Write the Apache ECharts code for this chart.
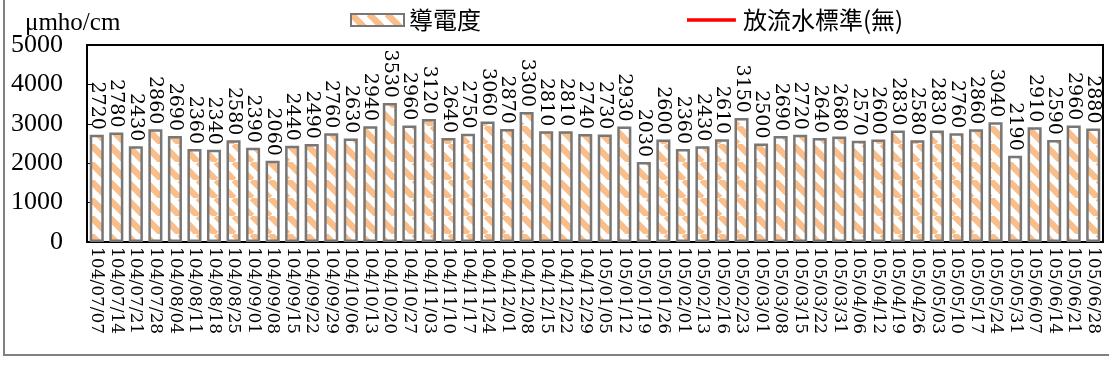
<!DOCTYPE html>
<html><head><meta charset="utf-8">
<script src="https://cdn.jsdelivr.net/npm/echarts@6/dist/echarts.min.js"></script>
<style>html,body{margin:0;padding:0;background:#fff;}#c{width:1109px;height:374px;}</style>
</head><body><div id="c"></div>
<script>
const categories = ['104/07/07','104/07/14','104/07/21','104/07/28','104/08/04','104/08/11','104/08/18','104/08/25','104/09/01','104/09/08','104/09/15','104/09/22','104/09/29','104/10/06','104/10/13','104/10/20','104/10/27','104/11/03','104/11/10','104/11/17','104/11/24','104/12/01','104/12/08','104/12/15','104/12/22','104/12/29','105/01/05','105/01/12','105/01/19','105/01/26','105/02/01','105/02/13','105/02/16','105/02/23','105/03/01','105/03/08','105/03/15','105/03/22','105/03/31','105/04/06','105/04/12','105/04/19','105/04/26','105/05/03','105/05/10','105/05/17','105/05/24','105/05/31','105/06/07','105/06/14','105/06/21','105/06/28'];
const conductivity = [2720,2780,2430,2860,2690,2360,2340,2580,2390,2060,2440,2490,2760,2630,2940,3530,2960,3120,2640,2750,3060,2870,3300,2810,2810,2740,2730,2930,2030,2600,2360,2430,2610,3150,2500,2690,2720,2640,2680,2570,2600,2830,2580,2830,2760,2860,3040,2190,2910,2590,2960,2880];
const standard = [];
const seriesNames = ['導電度','放流水標準(無)'];
const unitLabel = 'μmho/cm';
const yTicks = {min:0, max:5000, interval:1000};

function stripePattern(){
  const S = 18;
  const cv = document.createElement('canvas');
  cv.width = S; cv.height = S;
  const ctx = cv.getContext('2d');
  ctx.fillStyle = '#ffffff'; ctx.fillRect(0,0,S,S);
  ctx.strokeStyle = '#F9BE8A'; ctx.lineWidth = 6.5;
  for (let k=-1;k<=1;k++){
    ctx.beginPath(); ctx.moveTo(k*S,0); ctx.lineTo(k*S+S,S); ctx.stroke();
  }
  return {image: cv, repeat: 'repeat'};
}

const lineIcon = 'path://M0,0L0.01,0M0,4.5L53,4.5L53,8.5L0,8.5ZM52.99,13L53,13';

const chart = echarts.init(document.getElementById('c'));
chart.setOption({
  animation:false,
  backgroundColor:'#fff',
  graphic:[{type:'rect', silent:true, shape:{x:4,y:-10,width:1120,height:365}, style:{fill:'none', stroke:'#808080', lineWidth:2}}],
  title:{text:unitLabel, left:20, top:6, textStyle:{fontFamily:'Liberation Serif', fontSize:25, fontWeight:'normal', color:'#000'}},
  legend:{
    left:350, top:8, padding:0, itemGap:206, itemWidth:53, itemHeight:12,
    textStyle:{fontFamily:'Noto Sans CJK TC', fontSize:24, color:'#000'},
    data:[{name:seriesNames[0], icon:'rect'},
          {name:seriesNames[1], icon:lineIcon, itemStyle:{color:'#FF0000', borderWidth:0}, lineStyle:{width:0}}]
  },
  grid:{left:87, right:6, top:45, bottom:132, show:true, borderColor:'#000', borderWidth:2, backgroundColor:'transparent'},
  xAxis:{
    type:'category', data:categories, boundaryGap:true,
    axisLine:{lineStyle:{color:'#000', width:2}},
    axisTick:{show:false},
    axisLabel:{interval:0, rotate:-90, margin:5, fontFamily:'DejaVu Serif', fontSize:17, color:'#000'}
  },
  yAxis:{
    type:'value', min:yTicks.min, max:yTicks.max, interval:yTicks.interval,
    splitLine:{show:false},
    axisLine:{show:true, lineStyle:{color:'#000', width:2}},
    axisTick:{show:true, inside:true, length:6, lineStyle:{color:'#000'}},
    axisLabel:{margin:24, fontFamily:'Liberation Serif', fontSize:26, color:'#000', formatter:function(v){return String(v);}}
  },
  series:[
    {name:seriesNames[0], type:'bar', data:conductivity, barWidth:'72%',
     itemStyle:{color:stripePattern(), borderColor:'#777777', borderWidth:2.5},
     label:{show:true, position:'top', rotate:-90, align:'right', verticalAlign:'middle', distance:5,
            fontFamily:'DejaVu Serif', fontSize:19, color:'#000'}},
    {name:seriesNames[1], type:'line', data:standard, symbol:'none',
     lineStyle:{color:'#FF0000', width:4}, itemStyle:{color:'#FF0000'}}
  ]
});
</script></body></html>
